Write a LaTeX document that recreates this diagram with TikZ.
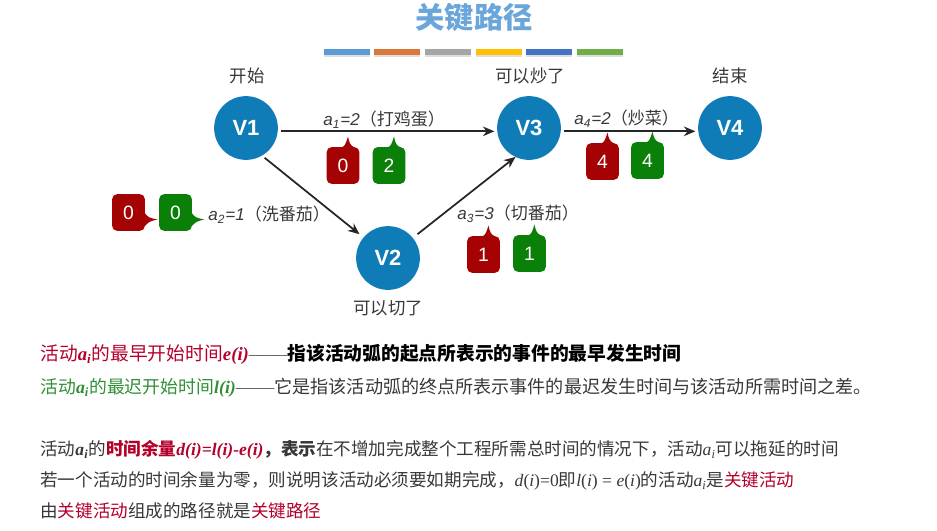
\documentclass[tikz,border=0pt]{standalone}
\usepackage{fontspec}
\setmainfont{Noto Sans CJK SC}
\newfontfamily\latfont{Liberation Sans}
\newfontfamily\serfont{Liberation Serif}
\usepackage{xcolor}
\usetikzlibrary{positioning, arrows.meta, shadows}

\definecolor{vblue}{HTML}{0F7CB8}
\definecolor{redbox}{HTML}{A50303}
\definecolor{greenbox}{HTML}{0B8009}
\definecolor{redtxt}{HTML}{B4002A}
\definecolor{greentxt}{HTML}{2F8F35}
\definecolor{bodytxt}{HTML}{383838}
\definecolor{titleblue}{HTML}{6AA6DA}

\newcommand{\alabel}[2]{{\latfont\itshape a\textsubscript{#1}=#2}}
\newcommand{\ai}{{\serfont\bfseries\itshape a\textsubscript{i}}}
\newcommand{\ainorm}{{\serfont\itshape a\textsubscript{i}}}
\newcommand{\bvar}[1]{{\serfont\bfseries\itshape #1}}
\newcommand{\nvar}[1]{{\serfont\itshape #1}{\serfont (}{\serfont\itshape i}{\serfont )}}
\newcommand{\longdash}[1]{{\color{black!60}\serfont\fontsize{#1}{12}\selectfont ——}}

\tikzset{
  vertex/.style={circle, fill=vblue, text=white, minimum size=64*0.567pt, inner sep=0pt, outer sep=0pt, font=\latfont\bfseries\fontsize{12.5}{13}\selectfont},
  evtlabel/.style={text=bodytxt, font=\fontsize{9.9}{12}\selectfont, inner sep=0pt},
  actlabel/.style={anchor=west, text=bodytxt, font=\fontsize{9.7}{12}\selectfont, inner sep=0pt},
  bodyline/.style={anchor=west, text=bodytxt, font=\fontsize{10}{12}\selectfont, inner sep=0pt},
  tagbox/.style={rectangle, rounded corners=3pt, text=white, minimum width=33*0.567pt, minimum height=37*0.567pt, inner sep=0pt, font=\latfont\fontsize{11}{11}\selectfont},
  redtag/.style={tagbox, fill=redbox},
  greentag/.style={tagbox, fill=greenbox},
  arc/.style={-{Stealth[length=6.5pt,width=5.5pt]}, line width=1pt, draw=black!85, shorten >=1.7pt, shorten <=1.7pt},
  colorbar/.style={rectangle, minimum width=46*0.567pt, minimum height=6*0.567pt, inner sep=0pt, drop shadow={shadow xshift=0pt, shadow yshift=-1pt, opacity=0.25}}
}

\begin{document}
\begin{tikzpicture}[x=0.02cm, y=-0.02cm]
\useasboundingbox (0,0) rectangle (937,531);

% Title and colour bars
\node[text=titleblue, font=\bfseries\fontsize{16.7}{18}\selectfont, inner sep=0pt] (title) at (474,17) {关键路径};
\foreach \x/\c/\n in {347/5B9BD5/a, 397/D9783A/b, 448/A5A5A5/c, 499/FFC000/d, 549/4472C4/e, 600/70AD47/f} {
  \definecolor{barcol}{HTML}{\c}
  \node[colorbar, fill=barcol] (bar\n) at (\x,52) {};
}

% Events
\node[vertex] (v1) at (246,128) {V1};
\node[vertex] (v2) at (388,258) {V2};
\node[vertex] (v3) at (529,128) {V3};
\node[vertex] (v4) at (730,128) {V4};

\node[evtlabel] (lstart) at (247,76) {开始};
\node[evtlabel] (lcut) at (388,308) {可以切了};
\node[evtlabel] (lfry) at (530,76) {可以炒了};
\node[evtlabel] (lend) at (730,76) {结束};

% Activities
\draw[arc] (v1.-6.5) -- (v3.186.5);
\draw[arc, shorten >=3pt, shorten <=2pt] (v1.-60) -- (v2.140);
\draw[arc, shorten >=0pt, shorten <=3.4pt] (v2.39) -- (v3.245);
\draw[arc] (v3.-6.5) -- (v4.186.5);

\node[actlabel] (act1) at (323,120) {\alabel{1}{2}（打鸡蛋）};
\node[actlabel] (act2) at (208,215) {\alabel{2}{1}（洗番茄）};
\node[actlabel] (act3) at (457,214) {\alabel{3}{3}（切番茄）};
\node[actlabel] (act4) at (574,119) {\alabel{4}{2}（炒菜）};

% Early and late tags
\node[redtag] (e1) at (343,165.5) {0};
\node[greentag] (l1) at (389,165.5) {2};
\node[redtag] (e2) at (128.5,212.5) {0};
\node[greentag] (l2) at (175.5,212.5) {0};
\node[redtag] (e3) at (483.5,254.5) {1};
\node[greentag] (l3) at (529.5,253.5) {1};
\node[redtag] (e4) at (602.5,161.5) {4};
\node[greentag] (l4) at (647.5,160.5) {4};

% Tag pointers
\foreach \t/\c in {e1/redbox, l1/greenbox, e3/redbox, l3/greenbox, e4/redbox, l4/greenbox} {
  \fill[\c] ([shift={(-2,1)}]\t.north) .. controls ([shift={(2,-1)}]\t.north) .. ([shift={(5,-10)}]\t.north) .. controls ([shift={(7,-2)}]\t.north) .. ([shift={(12,1)}]\t.north) -- cycle;
}
\foreach \t/\c in {e2/redbox, l2/greenbox} {
  \fill[\c] ([shift={(-1,0)}]\t.east) .. controls ([shift={(3,5)}]\t.east) .. ([shift={(12,7)}]\t.east) .. controls ([shift={(4,9)}]\t.east) .. ([shift={(-1,14)}]\t.east) -- cycle;
}

% Definitions below
\node[bodyline, font=\fontsize{10.67}{12}\selectfont] (line1) at (40,354) {{\color{redtxt}活动\ai{}的最早开始时间\bvar{e(i)}}\longdash{11}\textbf{\color{black}指该活动弧的起点所表示的事件的最早发生时间}};
\node[bodyline, font=\fontsize{10.15}{12}\selectfont] (line2) at (40,388) {{\color{greentxt}活动\ai{}的最迟开始时间\bvar{l(i)}}\longdash{11}{\fontsize{10.3}{12}\selectfont 它是指该活动弧的终点所表示事件的最迟发生时间与该活动所需时间之差。}};
\node[bodyline] (line3) at (40,450) {活动\ai{}的{\color{redtxt}\textbf{时间余量}\bvar{d(i)=l(i)-e(i)}}\textbf{，表示}在不增加完成整个工程所需总时间的情况下，活动\ainorm{}可以拖延的时间};
\node[bodyline] (line4) at (40,481) {若一个活动的时间余量为零，则说明该活动必须要如期完成，\nvar{d}{\serfont =0}即\nvar{l}{\serfont\ =\ }\nvar{e}的活动\ainorm{}是{\color{redtxt}关键活动}};
\node[bodyline] (line5) at (40,511) {由{\color{redtxt}关键活动}组成的路径就是{\color{redtxt}关键路径}};

\end{tikzpicture}
\end{document}
